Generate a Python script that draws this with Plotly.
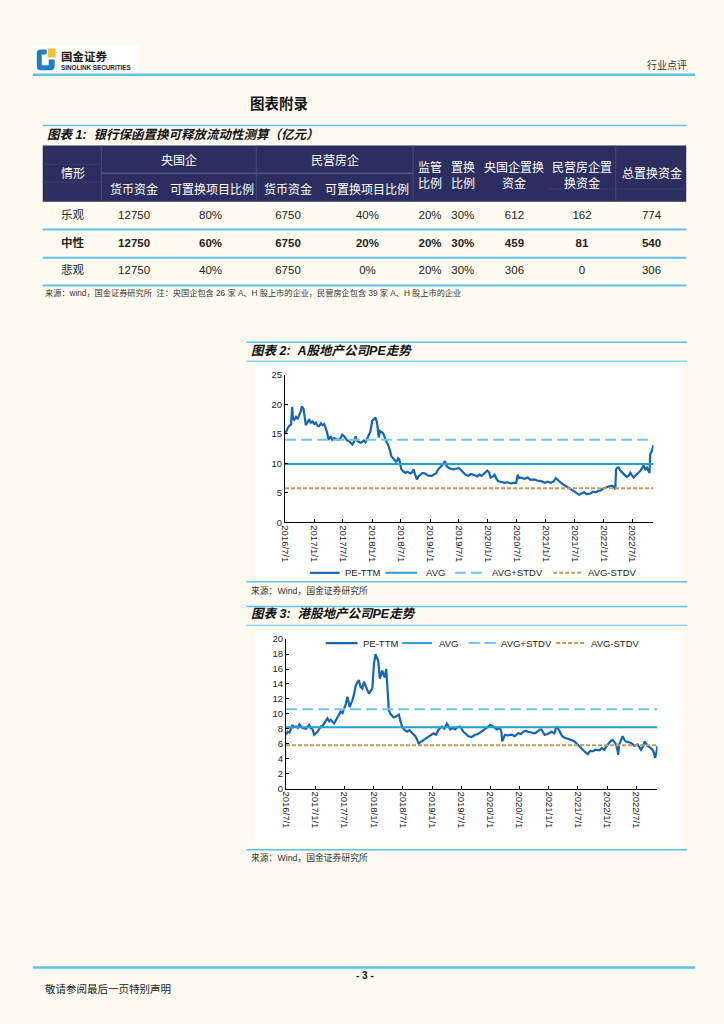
import plotly.graph_objects as go

W, H = 724, 1024

# ---------------- Table 1 data ----------------
scenarios = ["乐观", "中性", "悲观"]
soe_cash = [12750, 12750, 12750]
soe_ratio = ["80%", "60%", "40%"]
pvt_cash = [6750, 6750, 6750]
pvt_ratio = ["40%", "20%", "0%"]
reg_ratio = ["20%", "20%", "20%"]
swap_ratio = ["30%", "30%", "30%"]
soe_swap = [612, 459, 306]
pvt_swap = [162, 81, 0]
total_swap = [774, 540, 306]

# ---------------- Chart 2: A-share PE ----------------
a_dates = ["2016-07-01","2016-07-10","2016-07-18","2016-07-28","2016-08-08","2016-08-15","2016-08-20","2016-08-28",
 "2016-09-08","2016-09-18","2016-10-03","2016-10-10","2016-10-15","2016-10-26","2016-11-02","2016-11-09","2016-11-20",
 "2016-11-30","2016-12-10","2016-12-21","2017-01-01","2017-01-11","2017-01-21","2017-02-01","2017-02-12","2017-02-22",
 "2017-03-05","2017-03-15","2017-03-24","2017-03-31","2017-04-08","2017-04-15","2017-04-25","2017-05-06","2017-05-20",
 "2017-06-06","2017-06-18","2017-06-27","2017-07-08","2017-07-18","2017-07-28","2017-08-08","2017-08-18","2017-08-29",
 "2017-09-08","2017-09-19","2017-09-29","2017-10-10","2017-10-20","2017-11-01","2017-11-10","2017-11-20","2017-12-01",
 "2017-12-10","2017-12-21","2018-01-01","2018-01-10","2018-01-22","2018-02-01","2018-02-07","2018-02-12","2018-02-20",
 "2018-02-28","2018-03-08","2018-03-15","2018-03-22","2018-03-30","2018-04-08","2018-04-15","2018-04-24","2018-05-02",
 "2018-05-12","2018-05-23","2018-06-01","2018-06-06","2018-06-14","2018-06-21","2018-06-27","2018-07-04","2018-07-15",
 "2018-07-29","2018-08-12","2018-08-29","2018-09-10","2018-09-19","2018-09-28","2018-10-10","2018-10-20","2018-10-30",
 "2018-11-15","2018-12-01","2018-12-15","2019-01-01","2019-01-12","2019-01-22","2019-02-08","2019-02-22","2019-03-05",
 "2019-03-15","2019-03-25","2019-04-05","2019-04-15","2019-04-26","2019-05-10","2019-05-27","2019-06-12","2019-07-02",
 "2019-07-15","2019-07-29","2019-08-12","2019-08-29","2019-09-15","2019-10-10","2019-10-25","2019-11-08","2019-11-21",
 "2019-12-10","2019-12-28","2020-01-08","2020-01-18","2020-02-01","2020-02-12","2020-02-22","2020-03-04","2020-03-20",
 "2020-04-15","2020-05-01","2020-05-26","2020-06-10","2020-06-27","2020-07-07","2020-07-15","2020-07-28","2020-08-15",
 "2020-09-08","2020-09-25","2020-10-20","2020-11-05","2020-11-30","2020-12-15","2020-12-27","2021-01-10","2021-02-01",
 "2021-02-20","2021-03-04","2021-03-20","2021-04-04","2021-04-20","2021-05-16","2021-06-05","2021-06-27","2021-07-12",
 "2021-07-28","2021-08-12","2021-08-29","2021-09-15","2021-10-09","2021-10-25","2021-11-10","2021-11-25","2021-12-11",
 "2021-12-25","2022-01-11","2022-01-25","2022-02-12","2022-02-25","2022-03-09","2022-03-14","2022-03-19","2022-03-28",
 "2022-04-05","2022-04-15","2022-04-26","2022-05-10","2022-05-27","2022-06-08","2022-06-17","2022-06-28","2022-07-08",
 "2022-07-18","2022-07-28","2022-08-10","2022-08-18","2022-08-30","2022-09-08","2022-09-20","2022-09-29","2022-10-08",
 "2022-10-16","2022-10-20","2022-10-30","2022-11-10"]
a_pe = [15.0,15.6,16.0,16.4,16.6,19.6,17.6,17.4,17.9,17.5,18.5,19.0,19.7,19.2,17.8,16.5,17.0,
 17.5,16.9,17.1,16.7,16.9,16.4,16.3,16.8,16.5,
 16.7,16.0,15.2,14.0,14.3,14.6,14.0,14.3,14.1,
 14.0,14.4,14.9,14.6,14.3,13.9,13.8,13.5,13.2,
 13.6,14.6,13.8,13.6,13.5,13.7,13.9,13.6,14.3,
 14.8,15.4,17.2,17.5,17.8,16.9,15.5,14.4,15.5,
 15.4,15.2,14.9,14.2,13.8,13.4,12.9,12.2,11.2,
 10.9,10.7,10.3,10.4,10.9,10.7,9.6,9.0,8.7,
 8.4,8.6,8.3,8.5,9.0,8.2,7.3,7.8,8.1,
 8.4,8.3,8.0,7.9,7.9,8.1,8.3,9.0,9.4,
 9.6,9.9,10.4,9.6,9.3,9.1,9.0,9.1,9.2,
 8.9,8.4,8.1,7.9,8.2,8.0,7.8,8.1,7.9,
 8.3,8.8,8.5,7.6,7.8,8.1,7.5,7.0,6.9,
 6.7,6.8,6.6,6.7,6.7,8.1,7.5,7.6,7.4,
 7.6,7.2,7.3,7.1,7.0,6.8,6.7,6.9,6.7,
 7.0,7.5,7.1,6.7,6.4,6.0,5.7,5.3,5.0,
 4.7,4.9,5.1,4.8,4.9,5.2,5.1,5.3,5.4,
 5.7,5.9,6.0,6.2,6.2,5.9,5.6,9.0,9.3,
 9.3,8.8,8.4,8.1,7.7,8.0,8.4,8.0,7.6,
 7.9,8.1,8.5,8.7,9.1,9.6,9.0,9.3,8.8,
 8.4,11.5,12.1,13.1]
a_avg = 9.9
a_avg_plus = 14.0
a_avg_minus = 5.8
a_range = ["2016-07-01", "2022-11-10"]

# ---------------- Chart 3: HK-share PE ----------------
h_dates = ["2016-07-01","2016-07-11","2016-07-22","2016-08-01","2016-08-11","2016-08-20","2016-09-01","2016-09-12",
 "2016-09-22","2016-10-03","2016-10-13","2016-11-03","2016-11-12","2016-11-23","2016-12-03","2016-12-14","2016-12-24",
 "2017-01-04","2017-01-14","2017-01-25","2017-02-04","2017-02-15","2017-02-25","2017-03-07","2017-03-17","2017-03-28",
 "2017-04-07","2017-04-18","2017-04-28","2017-05-08","2017-05-19","2017-05-29","2017-06-08","2017-06-19","2017-06-29",
 "2017-07-10","2017-07-20","2017-07-27","2017-08-03","2017-08-12","2017-08-20","2017-08-30","2017-09-10","2017-09-20",
 "2017-09-30","2017-10-10","2017-10-21","2017-11-01","2017-11-11","2017-11-21","2017-12-02","2017-12-12","2017-12-23",
 "2018-01-02","2018-01-12","2018-01-20","2018-01-29","2018-02-08","2018-02-15","2018-02-23","2018-03-03","2018-03-11",
 "2018-03-20","2018-03-28","2018-04-05","2018-04-15","2018-04-26","2018-05-06","2018-05-17","2018-05-28","2018-06-07",
 "2018-06-17","2018-06-27","2018-07-10","2018-07-28","2018-08-12","2018-08-29","2018-09-08","2018-09-18","2018-09-28",
 "2018-10-09","2018-10-20","2018-11-09","2018-11-25","2018-12-10","2018-12-25","2019-01-10","2019-01-25","2019-02-11",
 "2019-03-03","2019-03-18","2019-04-03","2019-04-10","2019-04-24","2019-05-10","2019-05-25","2019-06-10","2019-06-25",
 "2019-07-16","2019-08-01","2019-08-16","2019-09-05","2019-09-27","2019-10-15","2019-11-07","2019-11-25","2019-12-08",
 "2019-12-29","2020-01-08","2020-01-19","2020-02-09","2020-02-29","2020-03-10","2020-03-15","2020-04-01","2020-04-20",
 "2020-05-12","2020-06-01","2020-06-22","2020-07-10","2020-07-24","2020-08-10","2020-08-24","2020-09-15","2020-10-04",
 "2020-10-20","2020-11-05","2020-11-15","2020-12-05","2020-12-25","2021-01-16","2021-02-05","2021-02-16","2021-02-25",
 "2021-03-09","2021-03-25","2021-04-09","2021-04-30","2021-05-21","2021-06-10","2021-07-01","2021-07-15","2021-08-01",
 "2021-08-15","2021-09-01","2021-09-15","2021-10-02","2021-10-20","2021-11-13","2021-11-28","2021-12-14","2021-12-25",
 "2022-01-04","2022-01-20","2022-02-04","2022-02-15","2022-02-25","2022-03-07","2022-03-10","2022-03-17","2022-03-28",
 "2022-04-07","2022-04-18","2022-04-28","2022-05-15","2022-05-29","2022-06-10","2022-06-19","2022-07-10","2022-07-20",
 "2022-07-30","2022-08-12","2022-08-24","2022-09-01","2022-09-10","2022-09-25","2022-10-11","2022-10-20","2022-10-27",
 "2022-11-04","2022-11-11"]
h_pe = [7.2,7.6,7.5,7.9,8.5,8.2,8.3,8.1,
 8.6,8.3,8.1,8.0,8.2,8.5,8.1,7.9,7.2,
 7.4,7.6,8.0,8.3,8.4,8.7,9.1,9.4,9.0,
 9.2,8.9,8.7,9.1,9.6,10.0,10.3,10.1,10.7,
 11.3,12.3,11.6,10.9,11.4,11.8,12.6,13.8,14.2,
 14.5,13.6,13.4,14.3,13.6,13.2,12.7,13.1,13.4,
 16.7,18.0,17.5,17.1,14.7,15.4,15.8,15.2,14.9,
 16.0,12.5,10.5,10.0,9.8,9.5,9.6,9.8,9.9,
 9.0,8.3,7.9,7.6,7.8,7.4,7.1,7.0,6.6,
 6.0,6.2,6.5,6.8,7.0,7.2,7.4,7.2,7.9,
 8.3,8.0,8.7,8.5,7.9,8.1,7.9,8.2,8.3,
 7.6,7.3,7.0,6.9,7.2,7.3,7.6,7.9,8.1,
 8.5,8.4,8.3,7.9,8.1,7.5,6.3,7.2,7.1,
 7.2,7.0,7.4,7.3,7.6,7.7,7.6,7.5,7.4,
 7.6,7.9,7.9,7.2,7.3,7.6,7.4,8.3,8.1,
 7.6,7.0,6.8,6.7,6.5,6.3,5.9,5.6,5.2,
 4.9,4.6,5.0,5.0,5.2,5.1,5.4,5.2,5.6,
 5.9,6.3,6.5,6.2,5.9,5.0,4.5,5.9,6.4,
 7.0,6.5,6.3,6.2,6.1,5.9,5.7,5.9,5.6,
 5.2,5.6,6.3,6.0,5.7,5.5,5.2,4.8,4.1,
 4.8,5.7]
h_avg = 8.2
h_avg_plus = 10.6
h_avg_minus = 5.8
h_range = ["2016-07-01", "2022-11-11"]

tick_vals = ["2016-07-01","2017-01-01","2017-07-01","2018-01-01","2018-07-01","2019-01-01","2019-07-01",
             "2020-01-01","2020-07-01","2021-01-01","2021-07-01","2022-01-01","2022-07-01"]
tick_text = ["2016/7/1","2017/1/1","2017/7/1","2018/1/1","2018/7/1","2019/1/1","2019/7/1",
             "2020/1/1","2020/7/1","2021/1/1","2021/7/1","2022/1/1","2022/7/1"]

series_names = ["PE-TTM", "AVG", "AVG+STDV", "AVG-STDV"]

# ---------------- styles ----------------
BG = "#FFFBF0"
NAVY = "#2B2E5E"
LBLUE = "#5BC2EC"
C_PE = "#1565B4"
C_AVG = "#22A0DC"
C_PLUS = "#6CC8F2"
C_MINUS = "#C49A55"
DASH_PLUS = "11px,5px"
DASH_MINUS = "4px,2px"
LATIN = "Liberation Sans, Noto Sans CJK SC"
CJK = "Noto Sans CJK SC"


def X(x):
    return x / W


def Y(y):
    return 1 - y / H


shapes = []
annotations = []


def hline(x0, x1, y, color, width=1.0, dash=None):
    ln = dict(color=color, width=width)
    if dash:
        ln["dash"] = dash
    shapes.append(dict(type="line", xref="paper", yref="paper", x0=X(x0), x1=X(x1), y0=Y(y), y1=Y(y), line=ln))


def vline(x, y0, y1, color, width=1.0):
    shapes.append(dict(type="line", xref="paper", yref="paper", x0=X(x), x1=X(x), y0=Y(y0), y1=Y(y1),
                       line=dict(color=color, width=width)))


def rect(x0, y0, x1, y1, fill, layer="below"):
    shapes.append(dict(type="rect", xref="paper", yref="paper", x0=X(x0), x1=X(x1), y0=Y(y1), y1=Y(y0),
                       fillcolor=fill, line=dict(width=0), layer=layer))


def text(x, y, s, size, color="#222", anchor="left", family=CJK, weight="normal", style="normal"):
    annotations.append(dict(x=X(x), y=Y(y), xref="paper", yref="paper", text=s, showarrow=False,
                            xanchor=anchor, yanchor="middle", align="center",
                            font=dict(family=family, size=size, color=color, weight=weight, style=style)))


# ---------------- page header ----------------
rect(28, 40, 135, 67, "#FFFFFF")
path = ("M {} {} L {} {} Q {} {} {} {} L {} {} Q {} {} {} {} L {} {} Q {} {} {} {} L {} {} L {} {} L {} {} L {} {} L {} {} L {} {} Z"
        .format(X(42), Y(44), X(36), Y(44), X(32), Y(44), X(32), Y(48), X(32), Y(61), X(32), Y(65), X(36), Y(65),
                X(46), Y(65), X(50), Y(65), X(50), Y(61), X(50), Y(54), X(44), Y(54), X(44), Y(60), X(37), Y(60),
                X(37), Y(49), X(42), Y(49)))
shapes.append(dict(type="path", xref="paper", yref="paper", path=path, fillcolor="#1E7FC8", line=dict(width=0)))
shapes.append(dict(type="rect", xref="paper", yref="paper", x0=X(43), x1=X(51), y0=Y(52), y1=Y(43),
                   fillcolor="#F2C12E", line=dict(width=0)))
text(54, 51, "国金证券", 11.5, "#1a1a1a", weight="bold")
text(54, 62.5, "SINOLINK SECURITIES", 6.3, "#1a1a1a", family="Liberation Sans", weight="bold")
text(689, 59, "行业点评", 10, "#333", anchor="right")
hline(28, 695, 69.5, LBLUE, 2.5)
text(276, 98, "图表附录", 14.5, "#111", anchor="center", weight="bold")

# ---------------- Table 1 ----------------
hline(38, 686, 120.7, LBLUE, 1.5)
text(40, 130, "图表 1:  银行保函置换可释放流动性测算（亿元）", 12.5, "#111", family=LATIN, weight="bold", style="italic")
rect(38, 141, 686, 198, NAVY)
hline(97, 411, 169, "#5D6AA0", 1)
for vx in [97, 253, 411, 615]:
    vline(vx, 141, 198, "#474C80", 1)
hline(38, 97, 160, "#3B3F70", 1)
hline(38, 97, 178, "#3B3F70", 1)
hline(547, 686, 185, "#3B3F70", 1)
hw = "#FFFFFF"
text(68, 168, "情形", 12, hw, anchor="center")
text(175, 155, "央国企", 12, hw, anchor="center")
text(332, 155, "民营房企", 12, hw, anchor="center")
text(130, 184, "货币资金", 12, hw, anchor="center")
text(208, 184, "可置换项目比例", 12, hw, anchor="center")
text(285, 184, "货币资金", 12, hw, anchor="center")
text(365, 184, "可置换项目比例", 12, hw, anchor="center")
text(428, 170, "监管<br>比例", 12, hw, anchor="center")
text(461, 170, "置换<br>比例", 12, hw, anchor="center")
text(513, 170, "央国企置换<br>资金", 12, hw, anchor="center")
text(581, 170, "民营房企置<br>换资金", 12, hw, anchor="center")
text(651, 168, "总置换资金", 12, hw, anchor="center")
for ly in [226, 254.5]:
    hline(38, 686, ly, LBLUE, 2)
hline(38, 686, 282.5, LBLUE, 2)
text(38, 290, "来源：wind，国金证券研究所  注：央国企包含 26 家 A、H 股上市的企业，民营房企包含 39 家 A、H 股上市的企业",
     8.2, "#333", family=LATIN)

col_x = [68, 130, 207, 285, 365, 428, 461, 513, 581, 651]
row_y = [212, 241, 268]
cols = [scenarios, soe_cash, soe_ratio, pvt_cash, pvt_ratio, reg_ratio, swap_ratio, soe_swap, pvt_swap, total_swap]
tx, ty, tt = [], [], []
for i, ry in enumerate(row_y):
    for cx, col in zip(col_x, cols):
        s = str(col[i])
        if i == 1:
            s = "<b>" + s + "</b>"
        tx.append(cx)
        ty.append(ry)
        tt.append(s)

# ---------------- chart frames ----------------
hline(243, 687, 340, LBLUE, 1.5)
text(246, 349, "图表 2:  A股地产公司PE走势", 12.5, "#111", family=LATIN, weight="bold", style="italic")
hline(243, 687, 359, LBLUE, 1)
rect(252, 362, 683, 578, "#FFFFFF")
hline(243, 687, 582, LBLUE, 1.5)
text(246, 591, "来源：Wind，国金证券研究所", 8.8, "#333", family=LATIN)

hline(243, 687, 607, LBLUE, 1.5)
text(246, 615, "图表 3:  港股地产公司PE走势", 12.5, "#111", family=LATIN, weight="bold", style="italic")
hline(243, 687, 626, LBLUE, 1)
rect(252, 630, 683, 850, "#FFFFFF")
hline(243, 687, 853, LBLUE, 1.5)
text(246, 861, "来源：Wind，国金证券研究所", 8.8, "#333", family=LATIN)

# manual legends
leg_colors = [C_PE, C_AVG, C_PLUS, C_MINUS]
leg_widths = [2.2, 2, 2, 2]
leg_dash = [None, None, DASH_PLUS, DASH_MINUS]
for ly, samples, textx in [
    (573, [(307, 337), (383, 415), (453, 485), (552, 582)], [340, 422, 488, 585]),
    (644, [(323, 355), (400, 430), (467, 495), (555, 585)], [358, 435, 497, 588]),
]:
    for (sx0, sx1), tx0, nm, c, w, d in zip(samples, textx, series_names, leg_colors, leg_widths, leg_dash):
        hline(sx0, sx1, ly, c, w, d)
        text(tx0, ly, nm, 9.5, "#222", family="Liberation Sans")

# ---------------- footer ----------------
hline(28, 695, 972, LBLUE, 2.5)
text(362, 980, "- 3 -", 10, "#111", anchor="center", family="Liberation Sans", weight="bold")
text(38, 993, "敬请参阅最后一页特别声明", 10.5, "#222")

# ---------------- traces ----------------
fig = go.Figure()


def add_chart(dates, pe, avg, plus, minus, rng, xa, ya):
    fig.add_trace(go.Scatter(x=dates, y=pe, mode="lines", line=dict(color=C_PE, width=2.2),
                             name=series_names[0], xaxis=xa, yaxis=ya, showlegend=False))
    for val, c, d, nm in [(avg, C_AVG, None, series_names[1]), (plus, C_PLUS, DASH_PLUS, series_names[2]),
                          (minus, C_MINUS, DASH_MINUS, series_names[3])]:
        ln = dict(color=c, width=2)
        if d:
            ln["dash"] = d
        fig.add_trace(go.Scatter(x=rng, y=[val, val], mode="lines", line=ln, name=nm,
                                 xaxis=xa, yaxis=ya, showlegend=False))


add_chart(a_dates, a_pe, a_avg, a_avg_plus, a_avg_minus, a_range, "x", "y")
add_chart(h_dates, h_pe, h_avg, h_avg_plus, h_avg_minus, h_range, "x2", "y2")

fig.add_trace(go.Scatter(x=tx, y=ty, text=tt, mode="text", xaxis="x3", yaxis="y3", showlegend=False,
                         textposition="middle center", hoverinfo="skip",
                         textfont=dict(family=LATIN, size=11.5, color="#222")))

axis_common = dict(showgrid=False, zeroline=False, showline=True, linecolor="#000", linewidth=1,
                   ticks="inside", ticklen=3, tickcolor="#000", tickwidth=1,
                   tickfont=dict(family="Liberation Sans", size=9.5, color="#222"))

fig.update_layout(
    width=W, height=H, autosize=False,
    margin=dict(l=0, r=0, t=0, b=0, pad=0),
    paper_bgcolor=BG, plot_bgcolor="rgba(0,0,0,0)",
    showlegend=False,
    xaxis=dict(domain=[X(282), X(653)], anchor="y", type="date", range=a_range,
               tickmode="array", tickvals=tick_vals, ticktext=tick_text, tickangle=90, **axis_common),
    yaxis=dict(domain=[Y(522), Y(373)], anchor="x", range=[0, 25], dtick=5, tick0=0, **axis_common),
    xaxis2=dict(domain=[X(283), X(657)], anchor="y2", type="date", range=h_range,
                tickmode="array", tickvals=tick_vals, ticktext=tick_text, tickangle=90, **axis_common),
    yaxis2=dict(domain=[Y(791), Y(640)], anchor="x2", range=[0, 20], dtick=2, tick0=0, **axis_common),
    xaxis3=dict(domain=[0, 1], anchor="y3", range=[0, W], visible=False, fixedrange=True),
    yaxis3=dict(domain=[0, 1], anchor="x3", range=[H, 0], visible=False, fixedrange=True),
    shapes=shapes,
    annotations=annotations,
)

fig.write_html("out.html", config={"displayModeBar": False},
               post_script="document.body.style.margin='0px';document.body.style.background='#FFFBF0';")
